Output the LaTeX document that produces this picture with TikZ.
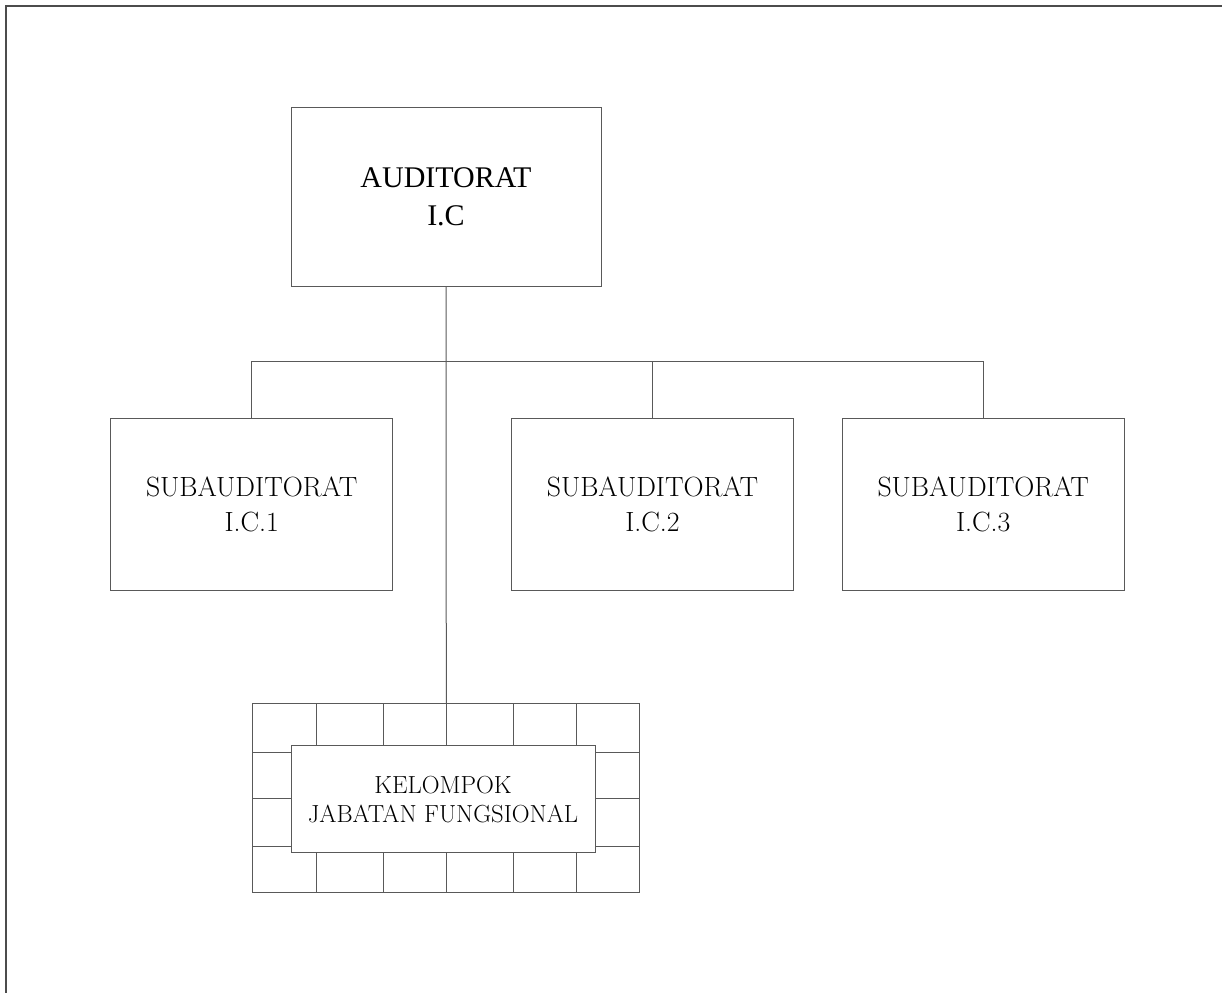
\documentclass[tikz,border=0pt]{standalone}
\usepackage{fontspec}
\newfontfamily\timesf{Liberation Serif}
\begin{document}
\begin{tikzpicture}[x=1pt,y=-1pt,
  line/.style={draw=black!65,line width=1pt},
  box/.style={rectangle,draw=black!65,line width=1pt,fill=white,align=center,inner sep=0pt},
  frameline/.style={draw=black!70,line width=2pt}]
\useasboundingbox (0,0) rectangle (1222,993);
% page frame (top and left only)
\draw[frameline] (1222,6) -- (6,6) -- (6,993);
% top box
\node[box,minimum width=310pt,minimum height=179pt,
  font={\timesf\fontsize{30}{38}\selectfont}] (top) at (446,196.5) {AUDITORAT\\I.C};
% sub boxes
\tikzset{sub/.style={box,minimum width=282pt,minimum height=172pt,
  font={\fontsize{27.8}{35}\selectfont}}}
\node[sub] (s1) at (251.7,504) {SUBAUDITORAT\\I.C.1};
\node[sub] (s2) at (652.5,504) {SUBAUDITORAT\\I.C.2};
\node[sub] (s3) at (983.2,504) {SUBAUDITORAT\\I.C.3};
% grid
\node[box,minimum width=387.3pt,minimum height=189.4pt] (grid) at (446.3,798) {};
\foreach \gx in {316,383.3,446.7,513.3,576.7}
  \draw[line] (\gx,703.3) -- (\gx,892.7);
\foreach \gy in {752.7,798.3,846}
  \draw[line] (252.7,\gy) -- (640,\gy);
\node[box,minimum width=304pt,minimum height=106.7pt,
  font={\fontsize{24.7}{29}\selectfont}] (kel) at (443,799.3) {KELOMPOK\\JABATAN FUNGSIONAL};
% connectors
\coordinate (bar) at (446,361.7);
\draw[line] (top.south) -- (grid.north);
\draw[line] (s1.north) |- (bar) -| (s3.north);
\draw[line] (s2.north) -- (s2.north |- bar);
\end{tikzpicture}
\end{document}
